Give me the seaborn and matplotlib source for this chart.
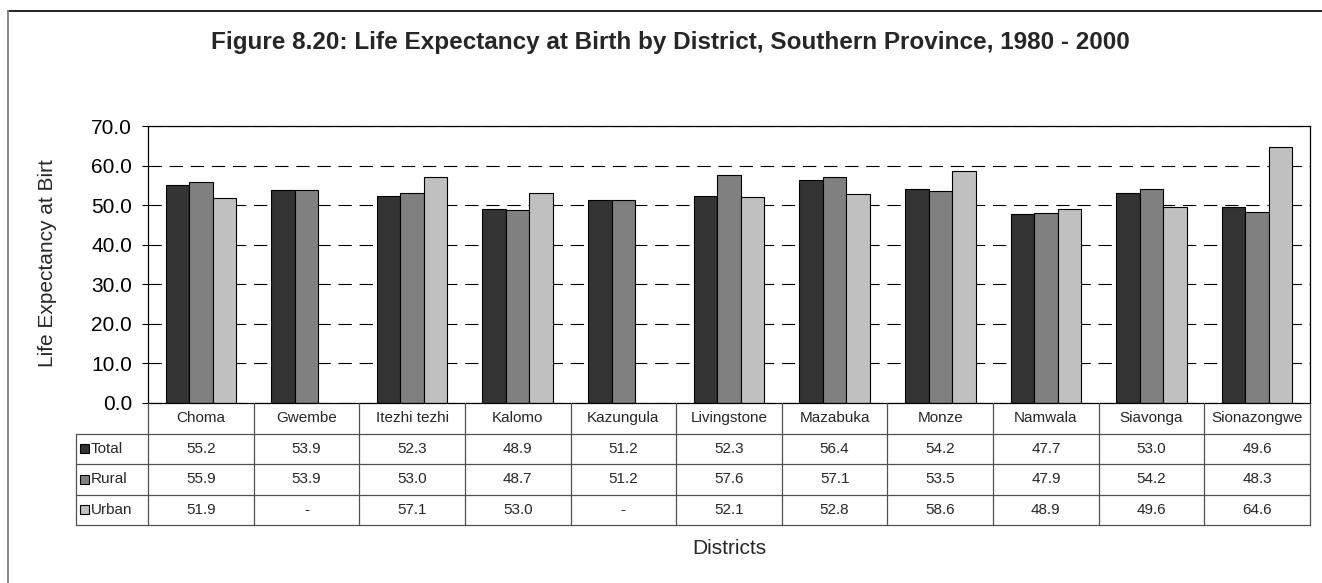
import numpy as np
import pandas as pd
import matplotlib
matplotlib.use("Agg")
import matplotlib.pyplot as plt
import seaborn as sns
from matplotlib.lines import Line2D
from matplotlib.patches import Rectangle
from matplotlib.ticker import StrMethodFormatter
from matplotlib.transforms import blended_transform_factory

# ---- data -------------------------------------------------------------
districts = ["Choma", "Gwembe", "Itezhi tezhi", "Kalomo", "Kazungula",
             "Livingstone", "Mazabuka", "Monze", "Namwala", "Siavonga",
             "Sionazongwe"]
series = ["Total", "Rural", "Urban"]
total = [55.2, 53.9, 52.3, 48.9, 51.2, 52.3, 56.4, 54.2, 47.7, 53.0, 49.6]
rural = [55.9, 53.9, 53.0, 48.7, 51.2, 57.6, 57.1, 53.5, 47.9, 54.2, 48.3]
urban = [51.9, np.nan, 57.1, 53.0, np.nan, 52.1, 52.8, 58.6, 48.9, 49.6, 64.6]
yticks = [0, 10, 20, 30, 40, 50, 60, 70]

colors = ["#333333", "#808080", "#C0C0C0"]

values = {"Total": total, "Rural": rural, "Urban": urban}
df = pd.DataFrame([(d, s, values[s][i]) for s in series
                   for i, d in enumerate(districts)],
                  columns=["District", "Series", "Value"])

# ---- figure -----------------------------------------------------------
sns.set_style("white")
plt.rcParams["font.family"] = ["Liberation Sans", "DejaVu Sans"]

W, H = 1322, 583
fig = plt.figure(figsize=(W / 100, H / 100), dpi=100)

def fx(px):
    return px / W

def fy(py):
    return 1 - py / H

L, R, T, B = 148, 1310, 126, 403
ax = fig.add_axes([fx(L), fy(B), fx(R - L), (B - T) / H])

sns.barplot(data=df, x="District", y="Value", hue="Series",
            order=districts, hue_order=series, palette=colors,
            saturation=1, width=0.667, edgecolor="black", linewidth=0.8,
            errorbar=None, legend=False, ax=ax)

ax.set_xlim(-0.5, len(districts) - 0.5)
ax.set_ylim(0, 70)
ax.set_yticks(yticks)
ax.yaxis.set_major_formatter(StrMethodFormatter("{x:.1f}"))
ax.tick_params(axis="x", bottom=False, labelbottom=False)
ax.tick_params(axis="y", left=True, direction="out", length=4.5, width=0.8,
               labelsize=15, pad=7, colors="black")
ax.set_xlabel("")
ax.set_ylabel("")
ax.yaxis.grid(True, color="black", linestyle=(0, (12, 7)), linewidth=0.8)
ax.set_axisbelow(True)
for sp in ax.spines.values():
    sp.set_visible(True)
    sp.set_color("black")
    sp.set_linewidth(0.9)

# ---- data table beneath the bars ---------------------------------------
tr = blended_transform_factory(ax.transData, fig.transFigure)
col_w = (R - L) / len(districts)
x_left = -0.5 - (L - 76) / col_w
x_right = len(districts) - 0.5
rows_y = [403, 433.5, 464, 494.5, 525]
line_kw = dict(color="#505050", linewidth=0.9, transform=tr, clip_on=False)

for y in rows_y[1:]:
    fig.add_artist(Line2D([x_left, x_right], [fy(y), fy(y)], **line_kw))
fig.add_artist(Line2D([x_left, x_left], [fy(rows_y[1]), fy(rows_y[-1])], **line_kw))
for i in range(len(districts) + 1):
    xv = i - 0.5
    fig.add_artist(Line2D([xv, xv], [fy(rows_y[0]), fy(rows_y[-1])], **line_kw))

for i, d in enumerate(districts):
    fig.text(i, fy((rows_y[0] + rows_y[1]) / 2), d, transform=tr,
             ha="center", va="center", fontsize=11)
    for r, s in enumerate(series):
        v = values[s][i]
        txt = "-" if np.isnan(v) else f"{v:.1f}"
        fig.text(i, fy((rows_y[r + 1] + rows_y[r + 2]) / 2), txt,
                 transform=tr, ha="center", va="center", fontsize=11)

for r, s in enumerate(series):
    yc = (rows_y[r + 1] + rows_y[r + 2]) / 2
    fig.add_artist(Rectangle((fx(80), fy(yc + 4.5)), fx(9), 9 / H,
                             facecolor=colors[r], edgecolor="black",
                             linewidth=0.8, transform=fig.transFigure))
    fig.text(fx(91), fy(yc), s, ha="left", va="center", fontsize=11)

# ---- titles and labels --------------------------------------------------
fig.text(fx(670), fy(49),
         "Figure 8.20: Life Expectancy at Birth by District, Southern Province, 1980 - 2000",
         ha="center", va="baseline", fontsize=17.5, fontweight="bold")
fig.text(fx(48), fy(263), "Life Expectancy at Birt", rotation=90,
         ha="center", va="center", fontsize=15)
fig.text(fx(729), fy(548), "Districts", ha="center", va="center", fontsize=15)

# outer frame
fig.add_artist(Line2D([fx(8), 1.0], [fy(11), fy(11)], color="#222222",
                      linewidth=1.4, transform=fig.transFigure))
fig.add_artist(Line2D([fx(8), fx(8)], [fy(11), 0.0], color="#888888",
                      linewidth=1.4, transform=fig.transFigure))

fig.savefig("out.png", dpi=100)
